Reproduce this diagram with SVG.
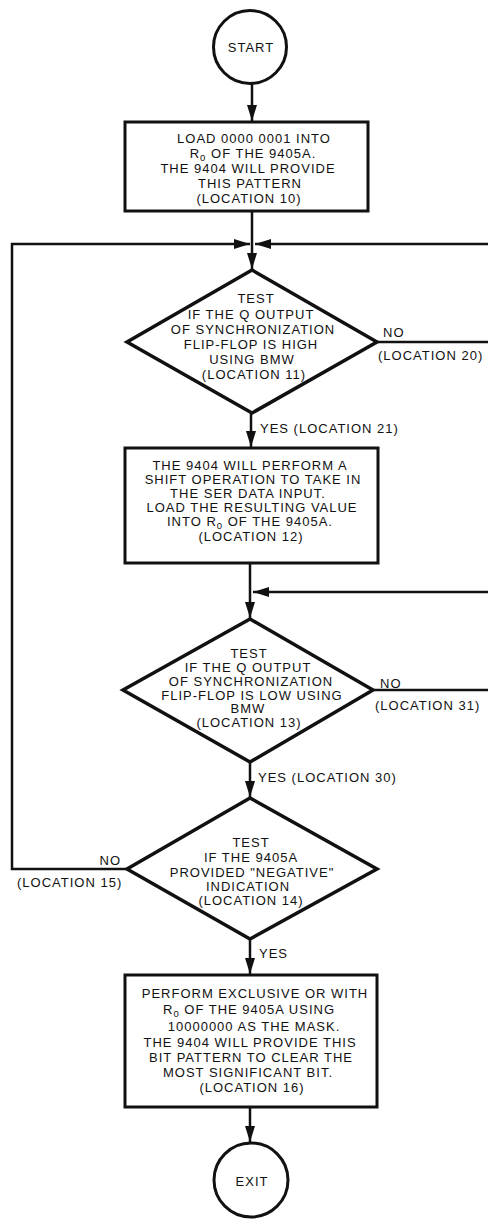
<svg xmlns="http://www.w3.org/2000/svg" width="488" height="1219" viewBox="0 0 488 1219">
<style>
text{font-family:"Liberation Sans",Arial,sans-serif;font-size:13px;letter-spacing:1px;fill:#111}
.c{text-anchor:middle}
.sub{font-size:9.5px}
.shape{fill:#fff;stroke:#111;stroke-width:3}
.dia{fill:#fff;stroke:#111;stroke-width:3.5;stroke-linejoin:miter}
.ln{fill:none;stroke:#111;stroke-width:2.5}
</style>
<defs>
<marker id="ah" viewBox="0 0 16 10" refX="16" refY="5" markerWidth="16" markerHeight="10" markerUnits="userSpaceOnUse" orient="auto">
<path d="M0,0 L16,5 L0,10 z" fill="#111"/>
</marker>
</defs>
<rect width="488" height="1219" fill="#fff"/>
<g id="connectors">
<line class="ln" x1="252" y1="83" x2="252" y2="121" marker-end="url(#ah)"/>
<line class="ln" x1="252" y1="211" x2="252" y2="269" marker-end="url(#ah)"/>
<polyline class="ln" points="127,869 12,869 12,244 250,244" marker-end="url(#ah)"/>
<line class="ln" x1="488" y1="244" x2="255" y2="244" marker-end="url(#ah)"/>
<line class="ln" x1="377" y1="342" x2="488" y2="342"/>
<line class="ln" x1="251" y1="413" x2="251" y2="447" marker-end="url(#ah)"/>
<line class="ln" x1="250" y1="563" x2="250" y2="618" marker-end="url(#ah)"/>
<line class="ln" x1="488" y1="592" x2="253" y2="592" marker-end="url(#ah)"/>
<line class="ln" x1="373" y1="690" x2="488" y2="690"/>
<line class="ln" x1="250" y1="762" x2="250" y2="797" marker-end="url(#ah)"/>
<line class="ln" x1="250" y1="939" x2="250" y2="974" marker-end="url(#ah)"/>
<line class="ln" x1="250" y1="1107" x2="250" y2="1142" marker-end="url(#ah)"/>
<text x="383" y="337">NO</text>
<text x="378" y="360">(LOCATION 20)</text>
<text x="260" y="433">YES (LOCATION 21)</text>
<text x="380" y="688">NO</text>
<text x="375" y="710">(LOCATION 31)</text>
<text x="258" y="782">YES (LOCATION 30)</text>
<text x="121" y="865" text-anchor="end">NO</text>
<text x="17" y="887">(LOCATION 15)</text>
<text x="259" y="958">YES</text>
</g>
<g id="start">
<circle class="shape" cx="250" cy="47" r="36.5"/>
<text class="c" x="251" y="52">START</text>
</g>
<g id="box1">
<rect class="shape" x="125" y="122" width="243" height="89"/>
<text class="c" x="254" y="143">LOAD 0000 0001 INTO</text>
<text class="c" x="253" y="158">R<tspan class="sub" dy="2.5">0</tspan><tspan dy="-2.5"> OF THE 9405A.</tspan></text>
<text class="c" x="248" y="173">THE 9404 WILL PROVIDE</text>
<text class="c" x="250" y="188">THIS PATTERN</text>
<text class="c" x="249" y="203">(LOCATION 10)</text>
</g>
<g id="test1">
<polygon class="dia" points="252,270 377,342 252,413 127,342"/>
<text class="c" x="256" y="303">TEST</text>
<text class="c" x="251" y="319">IF THE Q OUTPUT</text>
<text class="c" x="253" y="334">OF SYNCHRONIZATION</text>
<text class="c" x="251" y="349">FLIP-FLOP IS HIGH</text>
<text class="c" x="252" y="364">USING BMW</text>
<text class="c" x="254" y="379">(LOCATION 11)</text>
</g>
<g id="box2">
<rect class="shape" x="125" y="448" width="253" height="115"/>
<text class="c" x="250" y="470">THE 9404 WILL PERFORM A</text>
<text class="c" x="253" y="484">SHIFT OPERATION TO TAKE IN</text>
<text class="c" x="248" y="498">THE SER DATA INPUT.</text>
<text class="c" x="252" y="512">LOAD THE RESULTING VALUE</text>
<text class="c" x="250" y="526">INTO R<tspan class="sub" dy="2.5">0</tspan><tspan dy="-2.5"> OF THE 9405A.</tspan></text>
<text class="c" x="251" y="541">(LOCATION 12)</text>
</g>
<g id="test2">
<polygon class="dia" points="250,619 373,690 250,762 123,690"/>
<text class="c" x="249" y="658">TEST</text>
<text class="c" x="248" y="672">IF THE Q OUTPUT</text>
<text class="c" x="251" y="686">OF SYNCHRONIZATION</text>
<text class="c" x="252" y="700">FLIP-FLOP IS LOW USING</text>
<text class="c" x="248" y="713">BMW</text>
<text class="c" x="249" y="727">(LOCATION 13)</text>
</g>
<g id="test3">
<polygon class="dia" points="250,798 377,869 250,939 127,869"/>
<text class="c" x="251" y="847">TEST</text>
<text class="c" x="251" y="862">IF THE 9405A</text>
<text class="c" x="252" y="877">PROVIDED "NEGATIVE"</text>
<text class="c" x="248" y="891">INDICATION</text>
<text class="c" x="251" y="905">(LOCATION 14)</text>
</g>
<g id="box3">
<rect class="shape" x="125" y="975" width="252" height="132"/>
<text class="c" x="255" y="998">PERFORM EXCLUSIVE OR WITH</text>
<text class="c" x="249" y="1014">R<tspan class="sub" dy="2.5">0</tspan><tspan dy="-2.5"> OF THE 9405A USING</tspan></text>
<text class="c" x="254" y="1031">10000000 AS THE MASK.</text>
<text class="c" x="250" y="1047">THE 9404 WILL PROVIDE THIS</text>
<text class="c" x="251" y="1062">BIT PATTERN TO CLEAR THE</text>
<text class="c" x="248" y="1077">MOST SIGNIFICANT BIT.</text>
<text class="c" x="252" y="1092">(LOCATION 16)</text>
</g>
<g id="exit">
<circle class="shape" cx="251" cy="1180" r="37"/>
<text class="c" x="252" y="1186">EXIT</text>
</g>
</svg>
